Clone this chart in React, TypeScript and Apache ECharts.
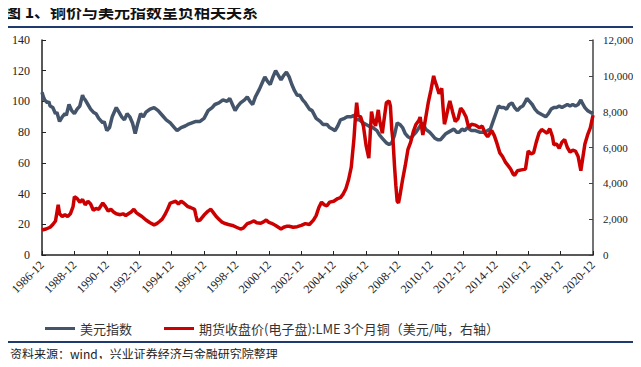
import React, { useEffect, useRef } from "react";
import * as echarts from "echarts";

// x positions are months since 1986-12
const TICK_LABELS = [
  "1986-12", "1988-12", "1990-12", "1992-12", "1994-12", "1996-12",
  "1998-12", "2000-12", "2002-12", "2004-12", "2006-12", "2008-12",
  "2010-12", "2012-12", "2014-12", "2016-12", "2018-12", "2020-12",
];

const DXY_NAME = "美元指数";
const CU_NAME = "期货收盘价(电子盘):LME 3个月铜（美元/吨，右轴）";

const DXY: [number, number][] = [
  [0,106],[1,103],[2,101],[4,99],[5,100],[6,97],[8,96],[10,92],[11,93],[13,87],[15,90],[17,92],[18,91],[20,98],[22,94],[24,92],[26,95],[28,97],[30,104],[31,102],[32,101],[34,98],[36,95],[38,93],[40,92],[42,89],[45,86],[46,87],[48,81],[50,83],[52,90],[55,96],[57,93],[59,90],[61,88],[63,92],[65,90],[67,86],[69,79],[71,86],[73,92],[75,90],[77,93],[80,95],[83,96],[86,94],[89,91],[92,88],[95,86],[98,83],[100,81],[103,83],[106,84],[108,85],[111,86],[114,87],[117,87],[120,89],[123,94],[126,96],[128,98],[131,99],[134,101],[137,100],[139,102],[141,98],[143,94],[145,97],[147,99],[150,101],[152,103],[154,100],[156,98],[158,103],[161,108],[163,112],[165,116],[167,113],[169,111],[171,116],[173,120],[175,117],[177,114],[179,117],[181,119],[183,116],[185,111],[187,107],[189,104],[191,104],[193,101],[195,99],[198,95],[200,94],[203,89],[206,87],[208,85],[211,85],[213,83],[215,82],[217,81],[219,84],[221,88],[224,89],[226,90],[229,90],[231,91],[233,88],[235,88],[238,86],[240,85],[242,84],[245,83],[248,81],[250,78],[252,76],[255,73],[257,72],[259,73],[261,78],[263,86],[265,85],[267,83],[269,79],[271,77],[273,76],[275,78],[277,80],[280,84],[282,86],[284,82],[287,80],[289,78],[291,76],[293,75],[295,75],[297,77],[299,79],[301,80],[303,81],[305,82],[307,80],[309,80],[311,82],[313,81],[315,83],[318,81],[321,81],[324,80],[327,80],[330,81],[332,82],[334,87],[336,92],[338,97],[340,96],[342,96],[344,95],[346,98],[348,99],[350,96],[352,94],[354,96],[356,97],[358,100],[359,102],[361,100],[363,98],[365,95],[367,93],[369,92],[371,91],[373,90],[375,92],[377,95],[379,96],[381,96],[383,97],[385,96],[387,97],[389,98],[391,97],[393,98],[395,97],[397,98],[399,101],[400,99],[402,96],[404,94],[406,93],[408,92],
];

const COPPER: [number, number][] = [
  [0,1400],[3,1450],[6,1550],[8,1700],[10,1900],[12,2800],[13,2300],[15,2150],[17,2250],[19,2150],[21,2300],[23,2700],[24,3250],[26,3150],[28,2950],[30,3100],[32,2800],[34,3000],[36,2850],[38,2500],[40,2600],[42,2550],[45,2900],[47,2700],[49,2450],[51,2550],[53,2400],[55,2300],[58,2250],[60,2300],[62,2200],[64,2300],[66,2400],[68,2550],[70,2350],[72,2250],[74,2150],[77,1950],[80,1800],[83,1680],[85,1750],[87,1870],[89,2000],[91,2250],[93,2550],[95,2900],[97,2950],[99,3000],[101,2850],[103,3000],[105,2900],[108,2700],[110,2650],[113,2550],[114,2200],[115,1900],[117,1950],[120,2230],[123,2450],[125,2550],[127,2350],[129,2150],[131,2000],[133,1850],[135,1770],[138,1700],[141,1650],[144,1550],[147,1450],[149,1500],[152,1750],[154,1800],[157,1900],[159,1800],[162,1770],[164,1850],[166,1950],[168,1820],[170,1770],[173,1650],[175,1550],[177,1450],[179,1550],[181,1600],[183,1600],[186,1550],[189,1580],[192,1650],[195,1750],[198,1700],[201,1950],[203,2200],[205,2650],[207,2950],[209,2800],[211,2750],[213,2950],[216,3000],[219,3150],[221,3200],[223,3400],[225,3700],[227,4200],[229,4900],[231,6500],[232,7600],[233,8500],[234,7800],[236,7700],[238,7200],[240,6100],[242,5400],[243,6700],[244,8000],[245,7600],[247,7200],[249,8100],[250,7500],[252,6800],[253,7400],[255,8500],[257,8600],[258,8300],[259,7000],[260,6300],[261,5000],[262,3900],[263,3000],[264,2900],[265,3300],[267,4200],[269,5000],[271,5900],[273,6300],[275,6900],[277,7300],[279,7500],[280,7700],[282,6700],[284,7600],[286,8500],[288,9200],[290,10000],[291,9700],[292,9500],[294,9000],[296,9300],[297,8200],[298,7300],[299,7600],[301,8300],[302,8600],[304,8000],[306,7450],[308,7600],[310,8200],[312,8000],[314,7700],[316,7100],[318,7300],[321,7250],[324,7100],[326,7200],[328,6800],[330,6600],[333,6950],[335,6650],[337,6200],[339,5700],[341,5500],[343,5200],[345,5000],[347,4800],[349,4500],[350,4450],[352,4700],[355,4750],[358,4800],[360,5800],[362,5650],[364,5700],[366,6300],[368,6800],[370,7000],[372,6900],[374,6800],[376,7050],[378,6600],[379,6150],[381,6200],[383,5950],[385,6300],[387,6450],[389,6000],[391,5750],[393,5850],[395,5800],[397,5500],[399,4700],[400,5200],[402,6200],[404,6700],[406,7100],[408,7800],
];

const TITLE = "图 1、铜价与美元指数呈负相关关系";
const SOURCE = "资料来源：wind，兴业证券经济与金融研究院整理";

export default function App() {
  const ref = useRef<HTMLDivElement>(null);
  useEffect(() => {
    if (!ref.current) return;
    const chart = echarts.init(ref.current, null, { renderer: "svg" });
    const serif = "'Liberation Serif', 'DejaVu Serif', serif";
    const cjk = "'Noto Sans CJK SC', sans-serif";
    chart.setOption({
      animation: false,
      backgroundColor: "#ffffff",
      grid: { left: 42, right: 48, top: 40, bottom: 112, containLabel: false },
      xAxis: {
        type: "value",
        min: 0,
        max: 408,
        interval: 24,
        axisLine: { show: true, lineStyle: { color: "#222", width: 1.5 } },
        axisTick: { show: true, inside: true, length: 4, lineStyle: { color: "#222" } },
        splitLine: { show: false },
        axisLabel: {
          rotate: 45,
          margin: 8,
          fontFamily: serif,
          fontSize: 12,
          color: "#222",
          formatter: (v: number) => TICK_LABELS[Math.round(v / 24)] ?? "",
        },
      },
      yAxis: [
        {
          type: "value",
          min: 0,
          max: 140,
          interval: 20,
          position: "left",
          axisLine: { show: true, lineStyle: { color: "#222", width: 1.5 } },
          axisTick: { show: true, inside: true, length: 4, lineStyle: { color: "#222" } },
          splitLine: { show: false },
          axisLabel: { margin: 12, fontFamily: serif, fontSize: 12, color: "#222" },
        },
        {
          type: "value",
          min: 0,
          max: 12000,
          interval: 2000,
          position: "right",
          axisLine: { show: true, lineStyle: { color: "#444", width: 1.5 } },
          axisTick: { show: true, inside: true, length: 4, lineStyle: { color: "#444" } },
          splitLine: { show: false },
          axisLabel: {
            margin: 10,
            fontFamily: serif,
            fontSize: 11,
            color: "#222",
            formatter: (v: number) => v.toLocaleString("en-US"),
          },
        },
      ],
      legend: {
        left: 40,
        top: 317,
        icon: "rect",
        itemWidth: 30,
        itemHeight: 3,
        itemGap: 32,
        textStyle: { fontFamily: cjk, fontSize: 13, color: "#333" },
        data: [DXY_NAME, CU_NAME],
      },
      series: [
        {
          name: DXY_NAME,
          type: "line",
          yAxisIndex: 0,
          data: DXY,
          showSymbol: false,
          symbol: "none",
          lineStyle: { color: "#44546A", width: 3.5 },
          itemStyle: { color: "#44546A" },
          z: 2,
        },
        {
          name: CU_NAME,
          type: "line",
          yAxisIndex: 1,
          data: COPPER,
          showSymbol: false,
          symbol: "none",
          lineStyle: { color: "#CC0000", width: 3.5 },
          itemStyle: { color: "#CC0000" },
          z: 3,
        },
      ],
      graphic: [
        {
          type: "text",
          left: 5,
          top: 3,
          style: { text: TITLE, fontFamily: cjk, fontWeight: "bold", fontSize: 16, fill: "#111" },
        },
        {
          type: "rect",
          shape: { x: 0, y: 26, width: 641, height: 2 },
          style: { fill: "#1F3A6E" },
        },
        {
          type: "rect",
          shape: { x: 4, y: 341, width: 630, height: 2 },
          style: { fill: "#1F3A6E" },
        },
        {
          type: "text",
          left: 10,
          top: 347,
          style: { text: SOURCE, fontFamily: cjk, fontSize: 12, fill: "#222" },
        },
      ],
    });
    return () => chart.dispose();
  }, []);
  return <div ref={ref} style={{ width: 641, height: 367, margin: -8 }} />;
}
